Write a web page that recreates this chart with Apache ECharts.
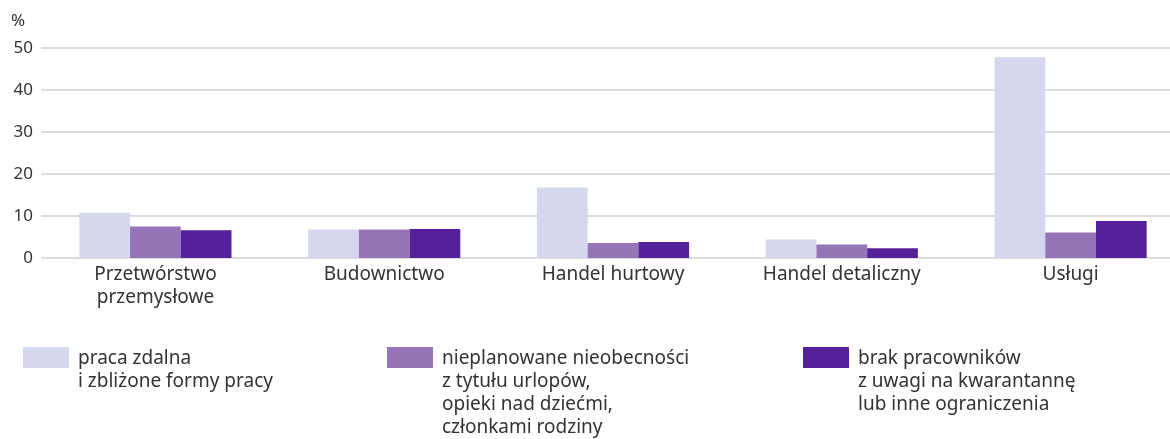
<!DOCTYPE html>
<html>
<head>
<meta charset="utf-8">
<script src="https://cdn.jsdelivr.net/npm/echarts@6/dist/echarts.min.js"></script>
<style>
  html, body { margin: 0; padding: 0; background: #fff; }
  #chart { width: 1170px; height: 439px; }
</style>
</head>
<body>
<div id="chart"></div>
<script>
// Dane (%)
const categories = ['Przetwórstwo\nprzemysłowe', 'Budownictwo', 'Handel hurtowy', 'Handel detaliczny', 'Usługi'];
const seriesNames = [
  'praca zdalna\ni zbliżone formy pracy',
  'nieplanowane nieobecności\nz tytułu urlopów,\nopieki nad dziećmi,\nczłonkami rodziny',
  'brak pracowników\nz uwagi na kwarantannę\nlub inne ograniczenia'
];
const pracaZdalna   = [10.8, 6.8, 16.8, 4.4, 47.8];
const nieobecnosci  = [7.5, 6.8, 3.6, 3.2, 6.1];
const brakPracown   = [6.6, 6.9, 3.8, 2.3, 8.8];
const yTicks = [0, 10, 20, 30, 40, 50];

const COLORS = ['#d5d7ee', '#9575b8', '#55219b'];
const FONT = "'Noto Sans', sans-serif";
const TXT = '#333333';
const LH = 23;      // wysokość wiersza w legendzie
const SW = 46;      // szerokość kwadracika legendy
const SH = 21;      // wysokość kwadracika legendy

const chart = echarts.init(document.getElementById('chart'), null, { renderer: 'canvas' });

// osobna legenda dla każdej serii; ikona wyrównana do pierwszego wiersza tekstu
const legendLeft = [23, 387, 803];
function makeLegend(i) {
  const n = seriesNames[i].split('\n').length;
  const h = n * LH;
  return {
    left: legendLeft[i],
    top: 347,
    padding: 0,
    selectedMode: false,
    // prostokąt u góry + pusty punkt na dole, żeby tekst zaczynał się od góry ikony
    icon: `path://M0,0H${SW}V${SH}H0Z M0,${h}L0.01,${h}`,
    itemWidth: SW,
    itemHeight: h,
    data: [seriesNames[i]],
    textStyle: {
      color: TXT,
      fontSize: 19,
      fontFamily: FONT,
      lineHeight: LH,
      padding: [0, 0, 0, 4],
    },
  };
}

chart.setOption({
  backgroundColor: '#ffffff',
  animation: false,
  title: {
    text: '%',
    left: 11,
    top: 13,
    padding: 0,
    textStyle: { color: TXT, fontSize: 17, fontWeight: 'normal', fontFamily: FONT },
  },
  legend: [0, 1, 2].map(makeLegend),
  grid: { left: 41, top: 48, width: 1144, height: 210, outerBoundsMode: 'none' },
  xAxis: {
    type: 'category',
    data: categories,
    axisLine: { show: false },
    axisTick: { show: false },
    axisLabel: {
      color: TXT,
      fontSize: 19,
      fontFamily: FONT,
      lineHeight: 23,
      margin: 5,
      interval: 0,
    },
  },
  yAxis: {
    type: 'value',
    min: yTicks[0],
    max: yTicks[yTicks.length - 1],
    interval: 10,
    axisLine: { show: false },
    axisTick: { show: false },
    axisLabel: { color: TXT, fontSize: 17, fontFamily: FONT, margin: 8 },
    splitLine: { lineStyle: { color: '#dcdcdc', width: 2 } },
  },
  series: [pracaZdalna, nieobecnosci, brakPracown].map((d, i) => ({
    name: seriesNames[i],
    type: 'bar',
    data: d,
    barGap: 0,
    barCategoryGap: '33.5%',
    itemStyle: { color: COLORS[i] },
    emphasis: { disabled: true },
  })),
});
</script>
</body>
</html>
